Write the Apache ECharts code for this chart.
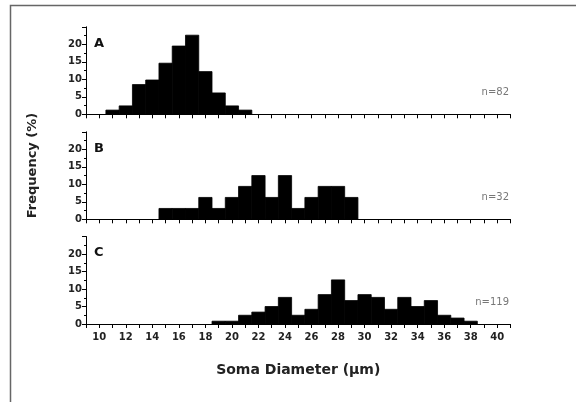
<!DOCTYPE html>
<html>
<head>
<meta charset="utf-8">
<script src="https://cdn.jsdelivr.net/npm/echarts@6/dist/echarts.min.js"></script>
<style>
  html, body { margin: 0; padding: 0; background: #fff; }
  #chart { width: 576px; height: 402px; }
</style>
</head>
<body>
<div id="chart"></div>
<script>
// soma diameter histograms, three panels, bins of 1 µm centred on integers

var binsA = [11, 12, 13, 14, 15, 16, 17, 18, 19, 20, 21];
var freqA = [1.2, 2.4, 8.5, 9.8, 14.6, 19.5, 22.6, 12.2, 6.1, 2.4, 1.2];

var binsB = [15, 16, 17, 18, 19, 20, 21, 22, 23, 24, 25, 26, 27, 28, 29];
var freqB = [3.1, 3.1, 3.1, 6.25, 3.1, 6.25, 9.4, 12.5, 6.25, 12.5, 3.1, 6.25, 9.4, 9.4, 6.25];

var binsC = [19, 20, 21, 22, 23, 24, 25, 26, 27, 28, 29, 30, 31, 32, 33, 34, 35, 36, 37, 38];
var freqC = [0.8, 0.8, 2.5, 3.4, 5.0, 7.6, 2.5, 4.2, 8.4, 12.6, 6.7, 8.4, 7.6, 4.2, 7.6, 5.0, 6.7, 2.5, 1.7, 0.8];

var panelLetters = ['A', 'B', 'C'];
var panelCounts = ['n=82', 'n=32', 'n=119'];

var xTickLabels = [10, 12, 14, 16, 18, 20, 22, 24, 26, 28, 30, 32, 34, 36, 38, 40];
var yTickLabels = [0, 5, 10, 15, 20];

var FONT = 'DejaVu Sans';

function pairs(bins, freq) {
    return bins.map(function (b, i) { return [b, freq[i]]; });
}

function renderBar(params, api) {
    var x = api.value(0), y = api.value(1);
    var p0 = api.coord([x - 0.5, y]);
    var p1 = api.coord([x + 0.5, 0]);
    return {
        type: 'rect',
        shape: { x: p0[0], y: p0[1], width: p1[0] - p0[0], height: p1[1] - p0[1] },
        style: { fill: '#000', stroke: '#000', lineWidth: 0.8 }
    };
}

var tops = [26.8, 131.8, 236.5];
var panelData = [pairs(binsA, freqA), pairs(binsB, freqB), pairs(binsC, freqC)];

var grids = [], xAxes = [], yAxes = [], series = [], graphics = [];

tops.forEach(function (top, i) {
    grids.push({ left: 86, top: top, width: 424.5, height: 87.5 });
    xAxes.push({
        type: 'value', gridIndex: i, min: 9, max: 41, interval: 1,
        axisLine: { show: true, lineStyle: { color: '#000', width: 1 } },
        axisTick: { show: true, length: 4, lineStyle: { color: '#000' } },
        splitLine: { show: false },
        axisLabel: {
            show: i === 2, margin: 8, color: '#222', fontFamily: FONT, fontWeight: 'bold', fontSize: 10,
            formatter: function (v) { return xTickLabels.indexOf(v) >= 0 ? String(v) : ''; }
        },
        name: i === 2 ? 'Soma Diameter (µm)' : '',
        nameLocation: 'middle', nameGap: 39,
        nameTextStyle: { color: '#222', fontFamily: FONT, fontWeight: 'bold', fontSize: 14 }
    });
    yAxes.push({
        type: 'value', gridIndex: i, min: 0, max: 25, interval: 5,
        axisLine: { show: true, lineStyle: { color: '#000', width: 1 } },
        axisTick: { show: true, length: 4, lineStyle: { color: '#000' } },
        minorTick: { show: true, splitNumber: 2, length: 2, lineStyle: { color: '#000' } },
        splitLine: { show: false },
        axisLabel: {
            margin: 4, color: '#222', fontFamily: FONT, fontWeight: 'bold', fontSize: 10,
            formatter: function (v) { return yTickLabels.indexOf(v) >= 0 ? String(v) : ''; }
        }
    });
    series.push({
        type: 'custom', xAxisIndex: i, yAxisIndex: i,
        renderItem: renderBar, data: panelData[i], silent: true
    });
    graphics.push({
        type: 'text', left: 94, top: top + 10,
        style: { text: panelLetters[i], fill: '#111', font: 'bold 13px ' + FONT }
    });
    graphics.push({
        type: 'text', x: 509, y: top + 65.5,
        style: { text: panelCounts[i], fill: '#777', font: '10px ' + FONT, align: 'right', verticalAlign: 'middle' }
    });
});

graphics.push({
    type: 'text', x: 33, y: 165.5, rotation: Math.PI / 2,
    style: { text: 'Frequency (%)', fill: '#222', font: 'bold 13px ' + FONT, align: 'center', verticalAlign: 'middle' }
});
graphics.push({
    type: 'polyline',
    shape: { points: [[10.5, 402], [10.5, 5.5], [576, 5.5]] },
    style: { stroke: '#666', lineWidth: 1.5, fill: null }
});

var myChart = echarts.init(document.getElementById('chart'));

var option = {
    animation: false,
    backgroundColor: '#fff',
    grid: grids,
    xAxis: xAxes,
    yAxis: yAxes,
    series: series,
    graphic: graphics
};

myChart.setOption(option);
</script>
</body>
</html>
